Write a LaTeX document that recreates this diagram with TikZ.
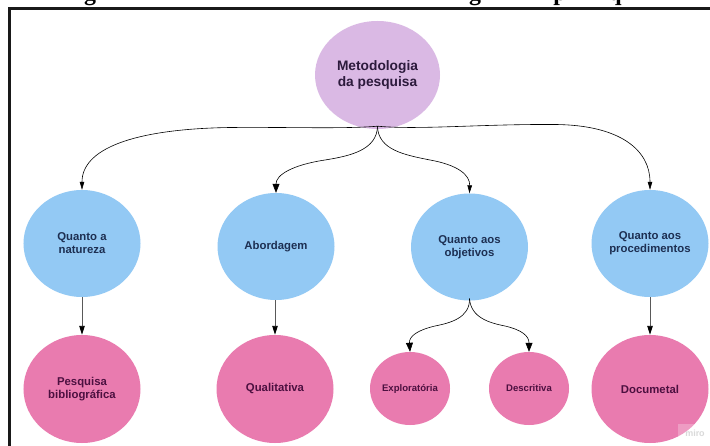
\documentclass[tikz,border=0pt]{standalone}
\usepackage{fontspec}
\setmainfont{Liberation Sans}
\newfontfamily\titlefont{Liberation Serif}
\usetikzlibrary{shapes.geometric,arrows.meta}
\definecolor{lilacfill}{HTML}{DAB9E4}
\definecolor{bluefill}{HTML}{93C9F4}
\definecolor{pinkfill}{HTML}{E97BAF}
\definecolor{roottext}{HTML}{2C1A3C}
\definecolor{bluetext}{HTML}{1D2F52}
\definecolor{pinktext}{HTML}{4C1040}
\tikzset{
  blob/.style={ellipse,draw=none,inner sep=0pt,align=center,font=\bfseries\fontsize{11.4}{13}\selectfont},
  rootblob/.style={blob,fill=lilacfill,text=roottext,font=\bfseries\fontsize{13.8}{16}\selectfont},
  blueblob/.style={blob,fill=bluefill,text=bluetext,minimum width=117bp,minimum height=107bp},
  pinkblob/.style={blob,fill=pinkfill,text=pinktext,minimum width=117bp,minimum height=108bp},
  smallblob/.style={blob,fill=pinkfill,text=pinktext,minimum width=80bp,minimum height=73bp,font=\bfseries\fontsize{9.6}{11}\selectfont},
  curvelink/.style={draw=black,line width=0.6bp,-{Triangle[length=8bp,width=4.5bp]}},
  biglink/.style={draw=black,line width=0.6bp,-{Triangle[length=9bp,width=7bp]}},
  straightlink/.style={draw=black!65,line width=0.9bp,-{Triangle[length=9bp,width=5.5bp,color=black]}},
  titlefrag/.style={inner sep=0pt,anchor=base,font=\titlefont\bfseries\fontsize{24}{24}\selectfont},
}
\begin{document}
\begin{tikzpicture}[x=1bp,y=-1bp]
\useasboundingbox (0,0) rectangle (710,446);
\fill[white] (0,0) rectangle (710,446);
% title cut by the top edge: only descenders remain
\begin{scope}
\clip (0,0) rectangle (710,8);
\node[titlefrag] (t1) at (90,0.5) {g};
\node[titlefrag] (t2) at (475,0.5) {g};
\node[titlefrag] (t3) at (560,0.5) {p};
\node[titlefrag] (t4) at (615,0.5) {q};
\end{scope}
% frame
\draw[line width=2.2bp,draw=black!90] (9.5,446) -- (9.5,8.5) -- (710,8.5);

\node[rootblob,minimum width=125bp,minimum height=108bp] (root) at (377.5,75) {Metodologia\\da pesquisa};
\node[blueblob] (natureza) at (82,243.5) {Quanto a\\natureza};
\node[blueblob] (abordagem) at (276,246.5) {Abordagem};
\node[blueblob] (objetivos) at (469.5,247) {Quanto aos\\objetivos};
\node[blueblob] (procedimentos) at (650,243.5) {Quanto aos\\procedimentos};
\node[pinkblob] (bibliografica) at (82,389) {Pesquisa\\bibliográfica};
\node[pinkblob] (qualitativa) at (275,389) {Qualitativa};
\node[smallblob] (exploratoria) at (410,388.5) {Exploratória};
\node[smallblob] (descritiva) at (529,388.5) {Descritiva};
\node[pinkblob] (documetal) at (650,389) {Documetal};

\coordinate (hub) at ([yshift=3bp]root.south);
\coordinate (hubB) at ([yshift=2bp]objetivos.south);

\draw[curvelink] (hub) .. controls (345,129) and (290,127) .. (230,127.5)
  .. controls (130,129) and (82,150) .. (natureza.north);
\draw[biglink] (hub) .. controls (377,150) and (350,156) .. (325,160)
  .. controls (292,165) and (276,175) .. (abordagem.north);
\draw[curvelink] (hub) .. controls (378,150) and (405,155) .. (430,160)
  .. controls (458,165) and (470,175) .. (objetivos.north);
\draw[curvelink] (hub) .. controls (420,130) and (480,124) .. (555,124.5)
  .. controls (620,125) and (650,150) .. (procedimentos.north);
\draw[straightlink] (natureza.south) -- (bibliografica.north);
\draw[straightlink] (qualitativa.north |- abordagem.south) -- (qualitativa.north);
\draw[straightlink] (procedimentos.south) -- (documetal.north);
\draw[biglink] (hubB) .. controls (470,318) and (450,323) .. (435,326)
  .. controls (418,330) and (409,336) .. (exploratoria.north);
\draw[biglink] (hubB) .. controls (471,318) and (490,323) .. (505,326)
  .. controls (522,330) and (529,336) .. (descritiva.north);

\fill[white,opacity=0.25] (678,424) rectangle (710,446);
\node[inner sep=0pt,text=white!70!gray,font=\bfseries\fontsize{9}{9}\selectfont] (miro) at (695,433) {miro};
\end{tikzpicture}
\end{document}
